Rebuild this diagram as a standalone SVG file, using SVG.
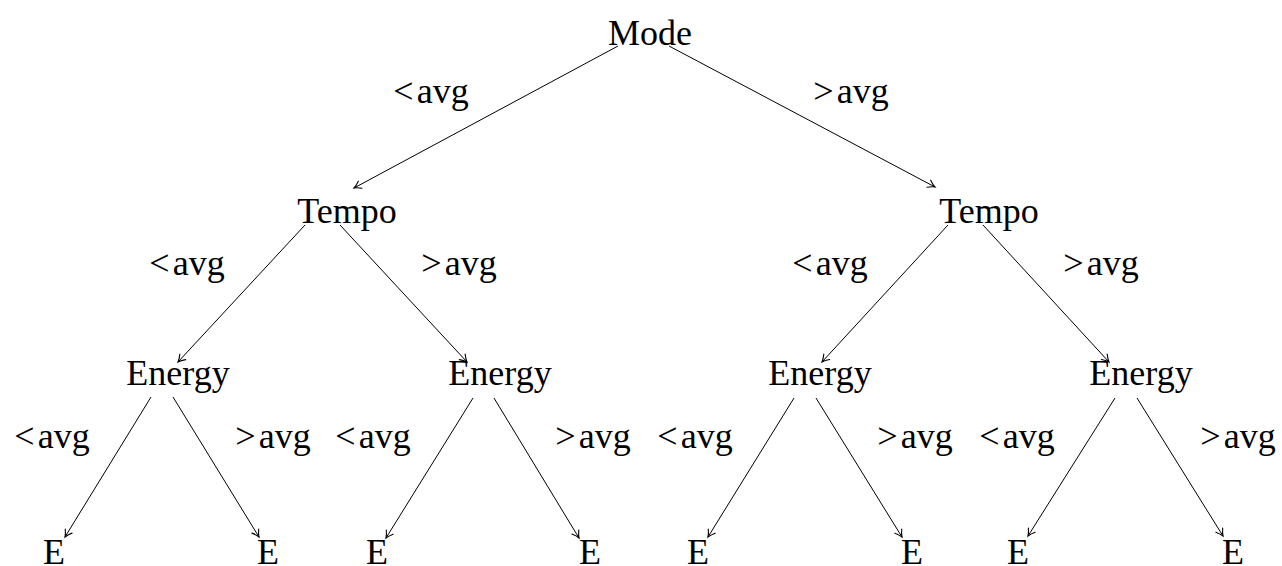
<svg xmlns="http://www.w3.org/2000/svg" width="1282" height="566" viewBox="0 0 1282 566">
<style>
.n,.l{font-family:'Liberation Serif',Tinos,'Times New Roman',Times,'DejaVu Serif',serif;font-size:36px;fill:#000;text-anchor:middle}
.e{stroke:#000;stroke-width:1;fill:none;marker-end:url(#arr)}
</style>
<defs>
<marker id="arr" markerUnits="userSpaceOnUse" markerWidth="14" markerHeight="14" viewBox="-10 -7 14 14" refX="0" refY="0" orient="auto">
<path d="M-7,-4 Q-3,-1 0,0 Q-3,1 -7,4" fill="none" stroke="#000" stroke-width="1.1" stroke-linecap="round"/>
</marker>
</defs>
<rect width="1282" height="566" fill="#fff"/>
<g id="connectors">
<line class="e" x1="618" y1="46" x2="354" y2="188"/>
<line class="e" x1="669" y1="46" x2="935" y2="187"/>
<line class="e" x1="305" y1="225" x2="178" y2="362"/>
<line class="e" x1="340" y1="225" x2="467" y2="362"/>
<line class="e" x1="948" y1="225" x2="822" y2="362"/>
<line class="e" x1="983" y1="225" x2="1109" y2="362"/>
<line class="e" x1="151" y1="397" x2="65" y2="537"/>
<line class="e" x1="173" y1="397" x2="259" y2="537"/>
<line class="e" x1="473" y1="398" x2="386" y2="538"/>
<line class="e" x1="494" y1="398" x2="579" y2="538"/>
<line class="e" x1="794" y1="398" x2="708" y2="537"/>
<line class="e" x1="816" y1="398" x2="902" y2="537"/>
<line class="e" x1="1115" y1="398" x2="1028" y2="536"/>
<line class="e" x1="1137" y1="398" x2="1223" y2="536"/>
</g>
<g id="labels">
<text class="l" x="431" y="103"><tspan>&lt;</tspan><tspan dx="3">avg</tspan></text>
<text class="l" x="851" y="103"><tspan>&gt;</tspan><tspan dx="3">avg</tspan></text>
<text class="l" x="187" y="275"><tspan>&lt;</tspan><tspan dx="3">avg</tspan></text>
<text class="l" x="459" y="275"><tspan>&gt;</tspan><tspan dx="3">avg</tspan></text>
<text class="l" x="830" y="275"><tspan>&lt;</tspan><tspan dx="3">avg</tspan></text>
<text class="l" x="1101" y="275"><tspan>&gt;</tspan><tspan dx="3">avg</tspan></text>
<text class="l" x="52" y="448"><tspan>&lt;</tspan><tspan dx="3">avg</tspan></text>
<text class="l" x="273" y="448"><tspan>&gt;</tspan><tspan dx="3">avg</tspan></text>
<text class="l" x="373" y="448"><tspan>&lt;</tspan><tspan dx="3">avg</tspan></text>
<text class="l" x="593" y="448"><tspan>&gt;</tspan><tspan dx="3">avg</tspan></text>
<text class="l" x="695" y="448"><tspan>&lt;</tspan><tspan dx="3">avg</tspan></text>
<text class="l" x="915" y="448"><tspan>&gt;</tspan><tspan dx="3">avg</tspan></text>
<text class="l" x="1017" y="448"><tspan>&lt;</tspan><tspan dx="3">avg</tspan></text>
<text class="l" x="1238" y="448"><tspan>&gt;</tspan><tspan dx="3">avg</tspan></text>
</g>
<g id="mode"><text class="n" x="650" y="45">Mode</text></g>
<g id="tempo-l"><text class="n" x="347" y="223">Tempo</text></g>
<g id="tempo-r"><text class="n" x="989" y="223">Tempo</text></g>
<g id="energy-1"><text class="n" x="178" y="385">Energy</text></g>
<g id="energy-2"><text class="n" x="500" y="385">Energy</text></g>
<g id="energy-3"><text class="n" x="820" y="385">Energy</text></g>
<g id="energy-4"><text class="n" x="1141" y="385">Energy</text></g>
<g id="e-1"><text class="n" x="54" y="564">E</text></g>
<g id="e-2"><text class="n" x="268" y="564">E</text></g>
<g id="e-3"><text class="n" x="377" y="564">E</text></g>
<g id="e-4"><text class="n" x="590" y="564">E</text></g>
<g id="e-5"><text class="n" x="698" y="564">E</text></g>
<g id="e-6"><text class="n" x="912" y="564">E</text></g>
<g id="e-7"><text class="n" x="1018" y="564">E</text></g>
<g id="e-8"><text class="n" x="1233" y="564">E</text></g>
</svg>
